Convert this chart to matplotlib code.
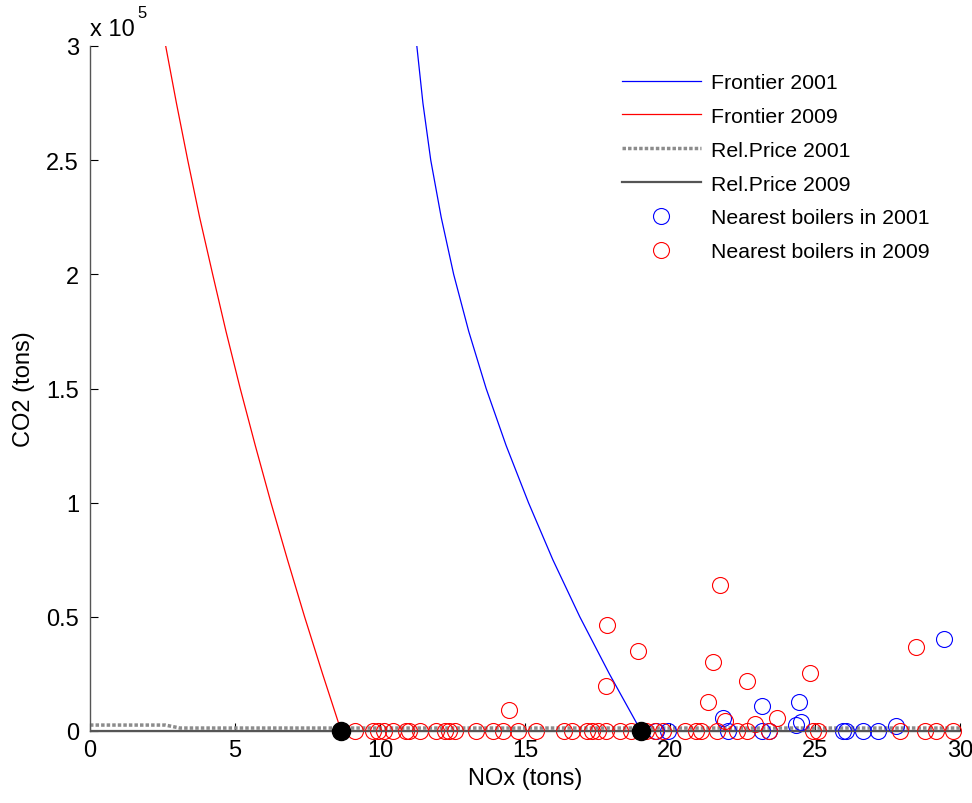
import matplotlib
matplotlib.use("Agg")
import matplotlib.pyplot as plt
from matplotlib.ticker import FixedLocator, FixedFormatter

plt.rcParams['font.family'] = ['Liberation Sans', 'DejaVu Sans']

# Efficient frontiers (NOx, CO2)
frontier09_x = [2.61, 2.98, 3.37, 3.78, 4.23, 4.69, 5.18, 5.70, 6.24, 6.81, 7.40, 8.02, 8.66]
frontier09_y = [300000, 275000, 250000, 225000, 200000, 175000, 150000, 125000, 100000,
                75000, 50000, 25000, 0]
frontier01_x = [11.27, 11.48, 11.75, 12.11, 12.54, 13.06, 13.66, 14.35, 15.12, 15.96, 16.89, 17.91, 19.00]
frontier01_y = [300000, 275000, 250000, 225000, 200000, 175000, 150000, 125000, 100000,
                75000, 50000, 25000, 0]

# Relative price lines
relprice01_x = [0, 2.6, 3.1, 30]
relprice01_y = [2600, 2600, 1300, 1300]
relprice09_x = [0, 30]
relprice09_y = [150, 150]

# Optimal points on the frontiers
opt_x = [8.66, 19.00]
opt_y = [0, 0]

# Nearest boilers 2009
b09_x = [9.14, 9.77, 9.94, 10.15, 10.46, 10.90, 11.01, 11.38, 11.92, 12.24, 12.39, 12.59,
         13.30, 13.91, 14.25, 14.75, 15.37, 16.35, 16.62, 17.14, 17.30, 17.52, 17.78, 18.27,
         18.66, 19.17, 19.47, 19.77, 20.52, 20.89, 21.06, 21.62, 22.30, 22.67, 23.43, 24.94,
         25.10, 27.92, 28.78, 29.17, 29.77,
         14.46, 17.82, 18.91, 17.79, 21.72, 21.49, 22.67, 24.83, 28.48, 21.30, 23.70, 22.93, 21.90]
b09_y = [200] * 41 + [9200, 46400, 35200, 19600, 63900, 30100, 22000, 25300, 36900, 12600,
                      5600, 3100, 4500]

# Nearest boilers 2001
b01_x = [19.50, 19.92, 21.99, 23.16, 23.43, 25.98, 26.08, 26.67, 27.16,
         29.45, 23.16, 24.46, 24.51, 21.82, 24.34, 27.79]
b01_y = [200] * 9 + [40300, 10800, 12600, 4100, 5500, 2600, 2300]

x_ticks = [0, 5, 10, 15, 20, 25, 30]
y_ticks = [0, 50000, 100000, 150000, 200000, 250000, 300000]
y_tick_labels = ['0', '0.5', '1', '1.5', '2', '2.5', '3']

fig = plt.figure(figsize=(9.72, 8.04), dpi=100)
ax = fig.add_axes([90/972, 1-732/804, 870/972, 685/804])

ax.plot(frontier01_x, frontier01_y, color='#0000ff', lw=0.9, label='Frontier 2001')
ax.plot(frontier09_x, frontier09_y, color='#ff0000', lw=0.9, label='Frontier 2009')
ax.plot(relprice01_x, relprice01_y, color='#8c8c8c', lw=2.5, ls=(0, (1, 0.6)), label='Rel.Price 2001')
ax.plot(relprice09_x, relprice09_y, color='#555555', lw=1.6, label='Rel.Price 2009')
ax.plot(b01_x, b01_y, ls='none', marker='o', ms=11.5, mfc='none', mec='#0000ff', mew=0.8,
        clip_on=False, label='Nearest boilers in 2001')
ax.plot(b09_x, b09_y, ls='none', marker='o', ms=11.5, mfc='none', mec='#ff0000', mew=0.8,
        clip_on=False, label='Nearest boilers in 2009')
ax.plot(opt_x, opt_y, ls='none', marker='o', ms=13, mfc='black', mec='black', clip_on=False, zorder=5)

ax.set_xlim(0, 30)
ax.set_ylim(0, 300000)
ax.xaxis.set_major_locator(FixedLocator(x_ticks))
ax.yaxis.set_major_locator(FixedLocator(y_ticks))
ax.yaxis.set_major_formatter(FixedFormatter(y_tick_labels))
ax.tick_params(direction='in', length=6, width=0.8, color='black', labelsize=17, pad=6)
ax.tick_params(axis='y', pad=8)
for s in ['top', 'right']:
    ax.spines[s].set_visible(False)
for s in ['left', 'bottom']:
    ax.spines[s].set_color('#555555')
    ax.spines[s].set_linewidth(1.0)

ax.set_xlabel('NOx (tons)', fontsize=17, labelpad=4)
ax.set_ylabel('CO2 (tons)', fontsize=17, labelpad=8)
fig.text(90/972, 1-30/804, 'x 10', fontsize=17, va='center', ha='left')
fig.text(137/972, 1-14/804, '5', fontsize=12, va='center', ha='left')

leg = ax.legend(loc='upper left', bbox_to_anchor=(622/972, 1-74/804), bbox_transform=fig.transFigure,
                frameon=False, fontsize=15.3, handlelength=3.7, handletextpad=0.5,
                labelspacing=0.70, borderaxespad=0, borderpad=0)

fig.savefig('out.png', dpi=100, facecolor='white')
